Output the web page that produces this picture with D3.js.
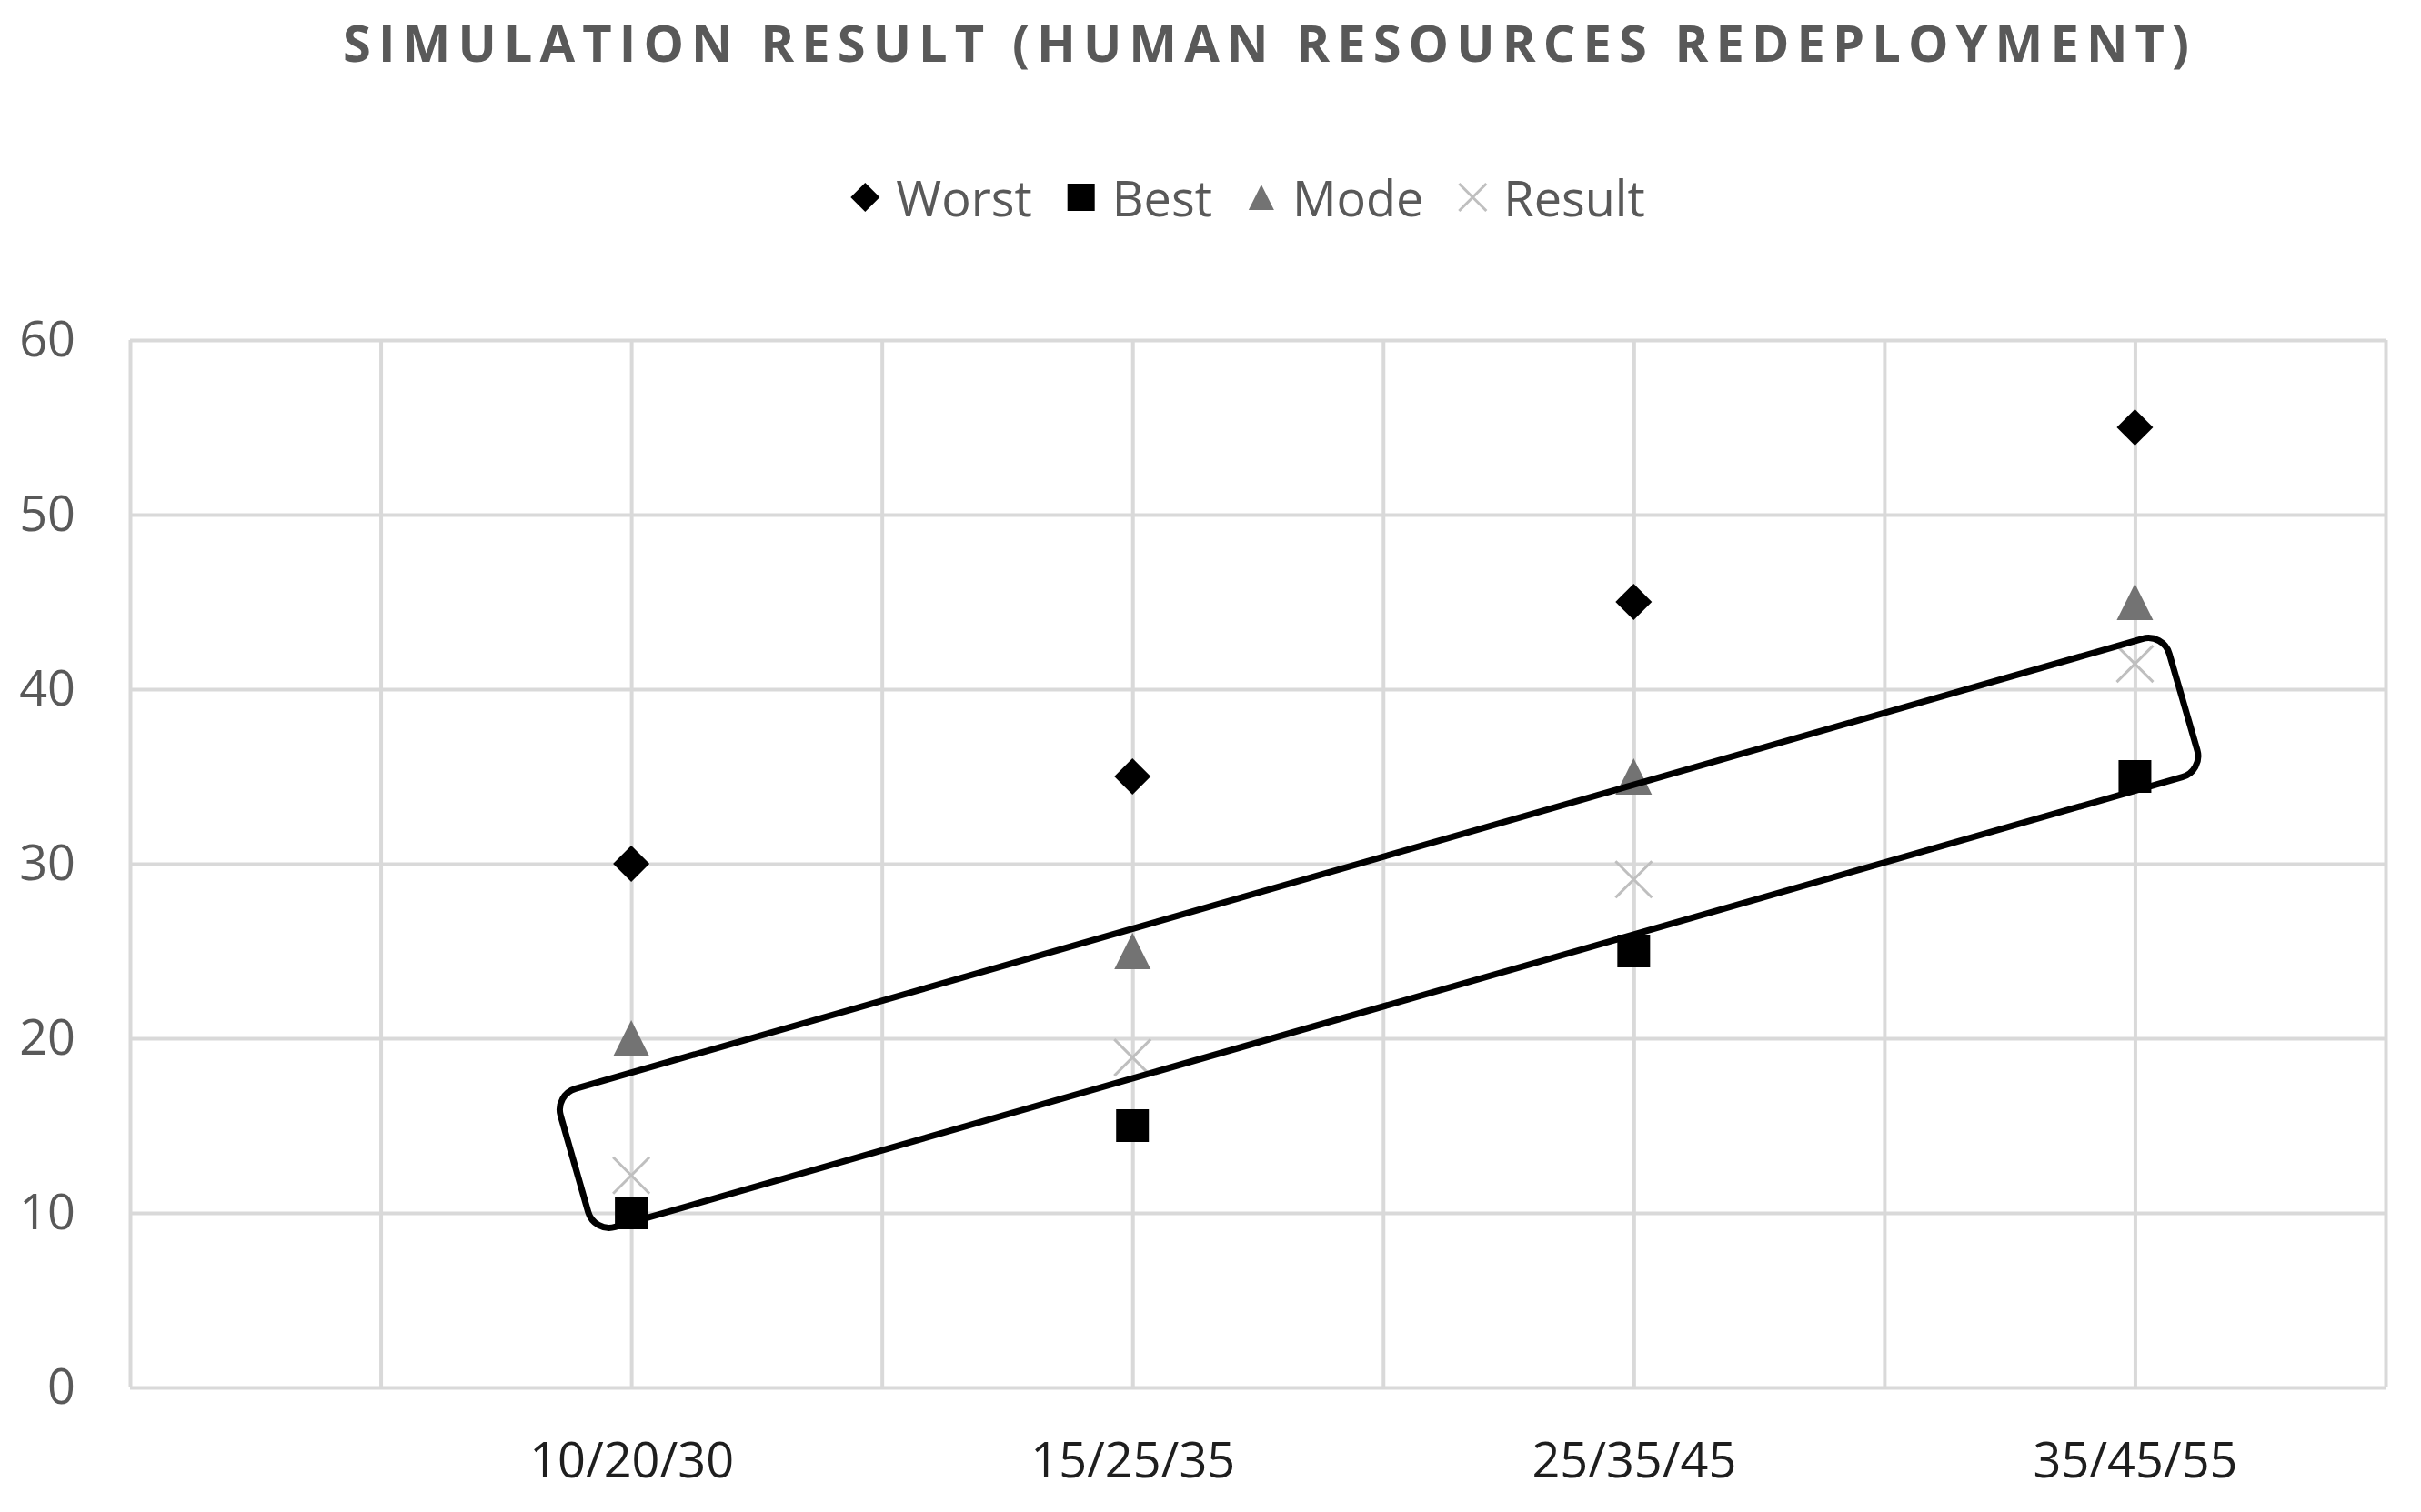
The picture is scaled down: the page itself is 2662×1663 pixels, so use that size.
<!DOCTYPE html>
<html><head><meta charset="utf-8">
<script src="https://cdn.jsdelivr.net/npm/d3@7"></script>
<style>html,body{margin:0;padding:0;background:#fff;} svg{display:block;}</style>
</head><body>
<svg id="chart" width="2662" height="1663"></svg>
<script>
// ---------- data ----------
const chartTitle = "SIMULATION RESULT (HUMAN RESOURCES REDEPLOYMENT)";
const categories = ["10/20/30", "15/25/35", "25/35/45", "35/45/55"];
const categoryPositions = [2, 4, 6, 8];
const worst = [30, 35, 45, 55];
const best = [10, 15, 25, 35];
const mode = [20, 25, 35, 45];
const result = [12.15, 18.9, 29.1, 41.45];
const seriesNames = ["Worst", "Best", "Mode", "Result"];
const yTickValues = [0, 10, 20, 30, 40, 50, 60];
const xGridValues = [0, 1, 2, 3, 4, 5, 6, 7, 8, 9];
// highlight box corners (data units)
const highlightBox = [[1.694, 16.77], [8.113, 43.23], [8.273, 35.31], [1.852, 8.85]];

// ---------- setup ----------
const W = 2662, H = 1663;
const FONT = "'Open Sans', 'Segoe UI', sans-serif";
const svg = d3.select("#chart");
svg.append("rect").attr("width", W).attr("height", H).attr("fill", "#fff");

const x = d3.scaleLinear().domain([0, 9]).range([143, 2623]);
const y = d3.scaleLinear().domain([0, 60]).range([1526, 374]);

// custom symbol types
const symDiamond = { draw(c, s) { const r = Math.sqrt(s) / 2; c.moveTo(0, -r); c.lineTo(r, 0); c.lineTo(0, r); c.lineTo(-r, 0); c.closePath(); } };
const symSquare = { draw(c, s) { const r = Math.sqrt(s) / 2; c.moveTo(-r, -r); c.lineTo(r, -r); c.lineTo(r, r); c.lineTo(-r, r); c.closePath(); } };
const symTriangle = { draw(c, s) { const r = Math.sqrt(s) / 2; c.moveTo(0, -r); c.lineTo(r, r); c.lineTo(-r, r); c.closePath(); } };
const symCross = { draw(c, s) { const r = Math.sqrt(s) / 2; c.moveTo(-r, -r); c.lineTo(r, r); c.moveTo(r, -r); c.lineTo(-r, r); } };

const seriesStyles = [
  { name: seriesNames[0], values: worst, type: symDiamond, size: 40, legendSize: 32, fill: "#000", stroke: "none", sw: 0 },
  { name: seriesNames[1], values: best, type: symSquare, size: 36, legendSize: 30, fill: "#000", stroke: "none", sw: 0 },
  { name: seriesNames[2], values: mode, type: symTriangle, size: 40, legendSize: 28, fill: "#737373", stroke: "none", sw: 0 },
  { name: seriesNames[3], values: result, type: symCross, size: 40, legendSize: 30, fill: "none", stroke: "#bfbfbf", sw: 3 }
];

// ---------- gridlines ----------
const gridX = svg.append("g").attr("transform", `translate(0,${y(0)})`)
  .call(d3.axisBottom(x).tickValues(xGridValues).tickSize(-(y(0) - y(60))).tickFormat(""));
gridX.select(".domain").remove();
gridX.selectAll("line").attr("stroke", "#d9d9d9").attr("stroke-width", 4);

const gridY = svg.append("g").attr("transform", `translate(${x(0)},0)`)
  .call(d3.axisLeft(y).tickValues(yTickValues).tickSize(-(x(9) - x(0))).tickFormat(""));
gridY.select(".domain").remove();
gridY.selectAll("line").attr("stroke", "#d9d9d9").attr("stroke-width", 4);

// ---------- axis labels ----------
const yAxis = svg.append("g").attr("transform", `translate(${x(0)},0)`)
  .call(d3.axisLeft(y).tickValues(yTickValues).tickSize(0).tickPadding(x(0) - 83));
yAxis.select(".domain").remove();
yAxis.selectAll("text").attr("font-family", FONT).attr("font-size", 54).attr("fill", "#595959");

const xAxis = svg.append("g").attr("transform", `translate(0,${y(0)})`)
  .call(d3.axisBottom(x).tickValues(categoryPositions).tickFormat((d, i) => categories[i]).tickSize(0).tickPadding(61));
xAxis.select(".domain").remove();
xAxis.selectAll("text").attr("font-family", FONT).attr("font-size", 54).attr("fill", "#1e1e1e");

// ---------- markers ----------
seriesStyles.forEach(s => {
  const sym = d3.symbol().type(s.type).size(s.size * s.size);
  svg.append("g").selectAll("path").data(s.values).join("path")
    .attr("transform", (d, i) => `translate(${x(categoryPositions[i])},${y(d)})`)
    .attr("d", sym)
    .attr("fill", s.fill).attr("stroke", s.stroke).attr("stroke-width", s.sw);
});

// ---------- highlight box ----------
const pts = highlightBox.map(([a, b]) => [x(a), y(b)]);
const bp = d3.path();
const n = pts.length;
bp.moveTo((pts[n - 1][0] + pts[0][0]) / 2, (pts[n - 1][1] + pts[0][1]) / 2);
for (let i = 0; i < n; i++) {
  const c = pts[i], nx = pts[(i + 1) % n];
  bp.arcTo(c[0], c[1], nx[0], nx[1], 24);
}
bp.closePath();
svg.append("path").attr("d", bp.toString()).attr("fill", "none").attr("stroke", "#000").attr("stroke-width", 7).attr("stroke-linejoin", "round");

// ---------- title ----------
svg.append("text").attr("x", 1392).attr("y", 68).attr("text-anchor", "middle")
  .attr("font-family", FONT).attr("font-size", 56).attr("font-weight", 700).attr("fill", "#595959")
  .attr("textLength", 2030).attr("lengthAdjust", "spacing")
  .text(chartTitle);

// ---------- legend ----------
const legend = svg.append("g");
const items = seriesStyles.map(s => {
  const g = legend.append("g");
  g.append("path").attr("d", d3.symbol().type(s.type).size(s.legendSize * s.legendSize))
    .attr("fill", s.fill).attr("stroke", s.stroke).attr("stroke-width", s.sw);
  const t = g.append("text").attr("font-family", FONT).attr("font-size", 54).attr("fill", "#595959")
    .attr("x", 34).attr("y", 21).text(s.name);
  return { g, w: t.node().getComputedTextLength() };
});
const markerGap = 34, itemGap = 54;
let total = 0;
items.forEach((it, i) => { total += markerGap + it.w + (i < items.length - 1 ? itemGap : 0); });
let cx = 1372 - (total + 16) / 2 + 16;
items.forEach((it, i) => {
  it.g.attr("transform", `translate(${cx},217)`);
  cx += markerGap + it.w + itemGap;
});
</script>
</body></html>
